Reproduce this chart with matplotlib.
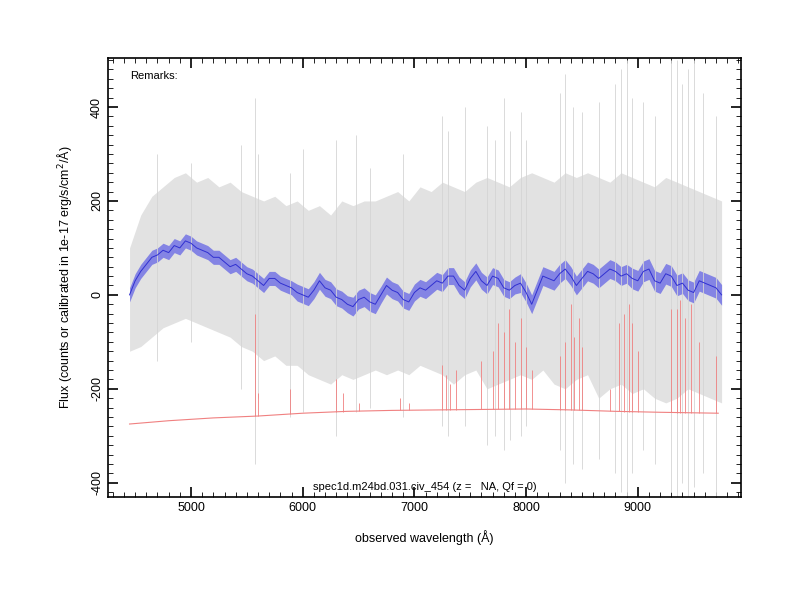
import numpy as np
import matplotlib
matplotlib.use("Agg")
import matplotlib.pyplot as plt
from matplotlib.ticker import MultipleLocator

plt.rcParams['font.family'] = ['Liberation Sans', 'DejaVu Sans']
plt.rcParams['axes.unicode_minus'] = False

# smoothed flux (blue), 50 A steps
wave = list(range(4450, 9751, 50))
flux = [0, 30, 50, 65, 80, 85, 95, 90, 105, 100, 115, 110, 100, 95, 90, 80, 80, 70, 60, 65,
        55, 45, 40, 30, 20, 35, 35, 25, 20, 15, 5, 0, -5, 10, 30, 15, 10, -5, -10, -20,
        -25, -10, -5, -15, -20, 0, 20, 10, 5, -10, -15, 5, 15, 10, 20, 30, 25, 40, 40, 20,
        10, 35, 50, 30, 20, 40, 35, 15, 10, 20, 25, 5, -20, 10, 40, 35, 30, 45, 55, 40,
        20, 35, 50, 45, 35, 45, 55, 50, 40, 45, 35, 30, 50, 55, 30, 25, 45, 40, 20, 25,
        10, 5, 30, 25, 20, 15, 0]
band = [15] * 30 + [18] * 10 + [20] * 5 + [18] * 25 + [20] * 20 + [22] * 17

# raw spectrum envelope (grey), 100 A steps
env_wave = list(range(4450, 9751, 100))
env_hi = [100, 170, 210, 230, 250, 260, 240, 250, 230, 240, 220, 210, 200, 210, 190, 200,
          180, 190, 170, 200, 190, 200, 200, 210, 220, 200, 230, 220, 240, 230, 220, 240,
          250, 240, 230, 250, 260, 250, 240, 260, 250, 260, 250, 240, 260, 250, 240, 230,
          250, 240, 230, 220, 210, 200]
env_lo = [-120, -110, -90, -70, -60, -50, -60, -70, -80, -90, -110, -120, -140, -130, -150,
          -150, -170, -180, -190, -170, -180, -170, -160, -170, -160, -170, -150, -160,
          -170, -190, -170, -160, -200, -190, -180, -170, -180, -160, -190, -200, -180,
          -170, -220, -200, -190, -210, -200, -220, -230, -220, -200, -210, -220, -230]
# grey spikes: wavelength, top, bottom
sp_wave = [4700, 5000, 5450, 5577, 5600, 5890, 6000, 6300, 6480, 6600, 6900, 7250, 7300,
           7450, 7650, 7720, 7800, 7860, 7950, 8000, 8300, 8350, 8420, 8500, 8650, 8800,
           8850, 8900, 8950, 9050, 9150, 9300, 9350, 9400, 9450, 9500, 9580, 9700]
sp_top = [300, 280, 320, 420, 300, 260, 310, 330, 340, 270, 300, 380, 350, 400, 360, 330,
          420, 350, 390, 330, 430, 470, 400, 390, 410, 450, 480, 500, 420, 410, 380, 500,
          500, 450, 480, 500, 430, 380]
sp_bot = [-140, -100, -200, -360, -220, -260, -250, -300, -250, -240, -260, -280, -300,
          -280, -320, -300, -330, -310, -300, -280, -330, -400, -360, -370, -350, -380,
          -420, -430, -380, -330, -360, -420, -430, -400, -430, -410, -380, -430]

# error / sky spectrum (red)
red_wave = [4450, 4800, 5200, 5600, 6000, 6400, 6800, 7200, 7600, 8000, 8400, 8800, 9200, 9720]
red_base = [-275, -268, -262, -258, -252, -248, -246, -245, -244, -243, -245, -248, -250, -252]
rs_wave = [5577, 5600, 5890, 6300, 6363, 6500, 6870, 6950, 7250, 7280, 7320, 7370, 7600,
           7700, 7750, 7800, 7850, 7900, 7950, 8000, 8050, 8300, 8350, 8400, 8430, 8470,
           8500, 8750, 8830, 8880, 8920, 8950, 9000, 9300, 9350, 9380, 9420, 9480, 9550, 9700]
rs_top = [-40, -210, -200, -180, -210, -230, -220, -230, -150, -170, -190, -160, -140, -120,
          -60, -80, -30, -100, -50, -110, -160, -130, -100, -20, -90, -50, -110, -200, -60,
          -40, -20, -60, -120, -30, -30, -10, -50, -20, -100, -130]

fig = plt.figure(figsize=(8, 6), dpi=100)
ax = fig.add_axes([0.135, 0.172, 0.791, 0.731])

ax.fill_between(env_wave, env_lo, env_hi, color='#e2e2e2', lw=0)
ax.vlines(sp_wave, sp_bot, sp_top, color='#d4d4d4', lw=0.6)

rb = np.interp(rs_wave, red_wave, red_base)
ax.plot(red_wave, red_base, color='#f08080', lw=0.8)
ax.vlines(rs_wave, rb, rs_top, color='#f08080', lw=0.6)

f = np.array(flux)
b = np.array(band)
ax.fill_between(wave, f - b, f + b, color='#8484e4', lw=0)
ax.plot(wave, flux, color='#3030d0', lw=0.7)

ax.set_xlim(4257, 9922)
ax.set_ylim(-430, 504)
ax.xaxis.set_major_locator(MultipleLocator(1000))
ax.xaxis.set_minor_locator(MultipleLocator(100))
ax.yaxis.set_major_locator(MultipleLocator(200))
ax.yaxis.set_minor_locator(MultipleLocator(20))
ax.tick_params(which='both', direction='in', top=True, right=True, labelsize=9)
ax.tick_params(which='major', length=7, width=1.2)
ax.tick_params(which='minor', length=3.5)
for lab in ax.get_yticklabels():
    lab.set_rotation(90)
    lab.set_va('center')
for s in ax.spines.values():
    s.set_linewidth(1.2)

ax.set_xlabel('observed wavelength (Å)', fontsize=9, labelpad=12)
ax.set_ylabel('Flux (counts or calibrated in 1e-17 erg/s/cm$^2$/Å)', fontsize=9, labelpad=12)
ax.text(0.035, 0.97, 'Remarks:', transform=ax.transAxes, fontsize=8, va='top')
ax.text(0.5, 0.012, 'spec1d.m24bd.031.civ_454 (z =   NA, Qf = 0)', transform=ax.transAxes,
        fontsize=8, ha='center', va='bottom')

fig.savefig('out.png', dpi=100)
